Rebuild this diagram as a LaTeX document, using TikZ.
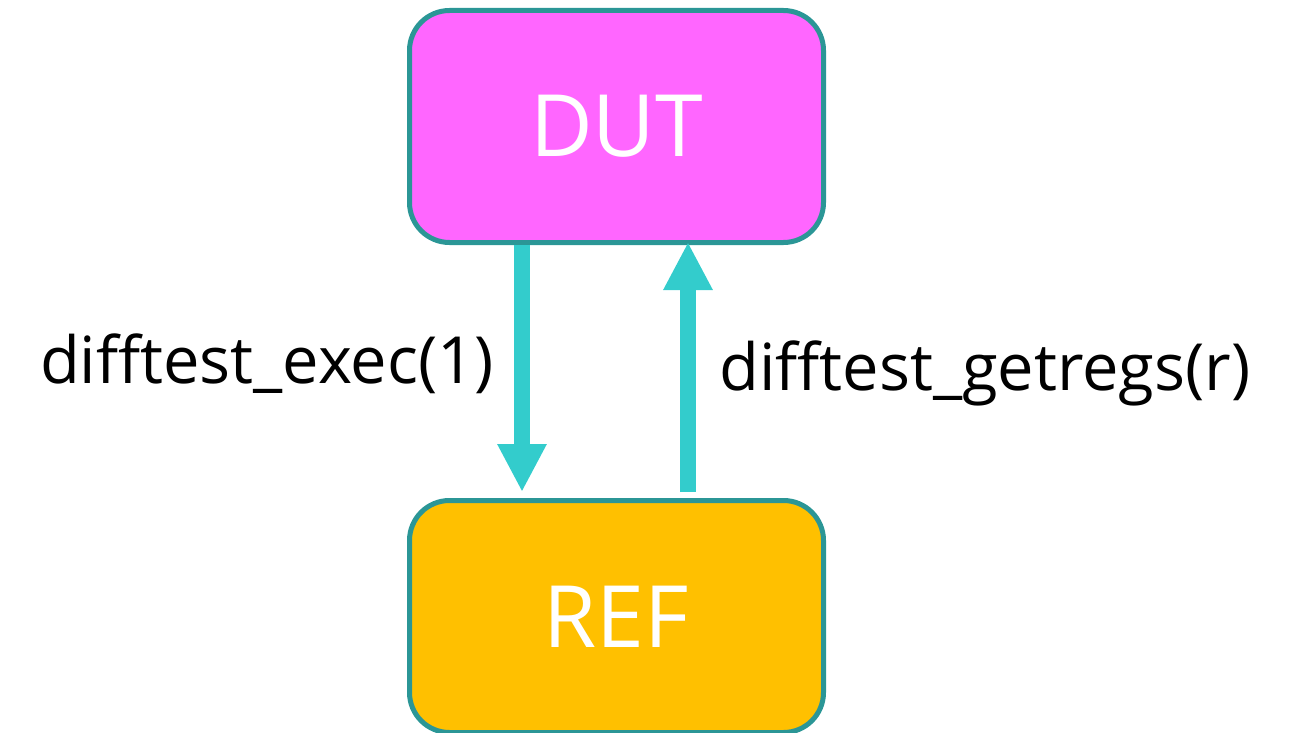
\documentclass[tikz,border=0pt]{standalone}
\usepackage{fontspec}
\setmainfont{Open Sans}
\usetikzlibrary{arrows.meta}
\definecolor{dutfill}{HTML}{FF66FF}
\definecolor{reffill}{HTML}{FFC000}
\definecolor{boxline}{HTML}{2B9696}
\definecolor{arrowcol}{HTML}{33CCCC}
\tikzset{
  blockbox/.style={draw=boxline, line width=5pt, rounded corners=40pt, minimum width=414pt, inner sep=0pt, text=white, font=\fontsize{86}{90}\selectfont},
  flowarrow/.style={draw=arrowcol, line width=16pt, -{Triangle[width=46pt,length=48pt]}},
  lbl/.style={font=\fontsize{65}{70}\selectfont, text=black, inner sep=0pt, anchor=base}
}
\begin{document}
\begin{tikzpicture}[x=1pt,y=-1pt]
\useasboundingbox (0,0) rectangle (1294,733);
\node[blockbox, fill=dutfill, minimum height=232pt] (dut) at (616.5,126.5) {DUT};
\node[blockbox, fill=reffill, minimum height=232pt] (ref) at (616.5,616.5) {REF};
\draw[flowarrow, shorten >=6pt] ([xshift=-94.5pt]dut.south) -- ([xshift=-94.5pt]ref.north);
\draw[flowarrow, shorten <=6pt, shorten >=-3pt] ([xshift=71.5pt]ref.north) -- ([xshift=71.5pt]dut.south);
\node[lbl] (l1) at (267,383) {difftest\_exec(1)};
\node[lbl] (l2) at (985,390) {difftest\_getregs(r)};
\end{tikzpicture}
\end{document}
